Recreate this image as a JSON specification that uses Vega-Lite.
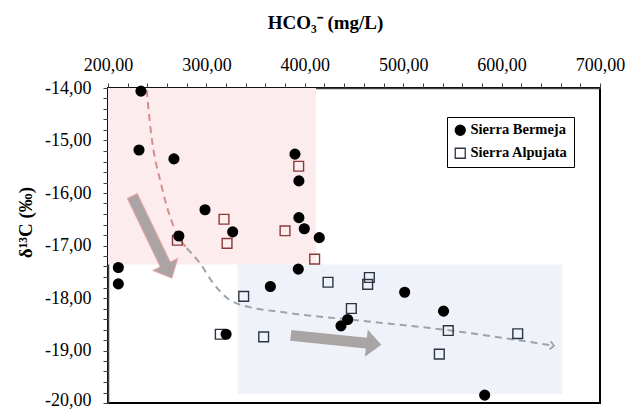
{
  "$schema": "https://vega.github.io/schema/vega-lite/v6.json",
  "width": 492,
  "height": 315,
  "autosize": {"type": "none"},
  "padding": {"left": 108, "top": 88, "right": 29, "bottom": 7},
  "background": "white",
  "config": {
    "view": {"stroke": "black", "strokeWidth": 2},
    "font": "Liberation Serif",
    "axis": {"grid": false, "domainColor": "#404040", "domainWidth": 1.5, "tickColor": "#404040", "tickSize": 5, "labelFont": "Liberation Serif", "labelFontSize": 18, "labelColor": "black", "titleFont": "Liberation Serif", "titleFontSize": 19, "titleFontWeight": "bold", "titleColor": "black"}
  },
  "resolve": {"axis": {"x": "independent", "y": "independent"}},
  "datasets": {
    "zones": [
      {"zone": "upper", "x": 200, "x2": 411.4, "y": -14, "y2": -17.36},
      {"zone": "lower", "x": 331.8, "x2": 661.7, "y": -17.36, "y2": -19.83}
    ],
    "points": [
      {"series": "Sierra Alpujata", "zone": "upper", "x": 270.5, "y": -16.9},
      {"series": "Sierra Alpujata", "zone": "upper", "x": 317.9, "y": -16.5},
      {"series": "Sierra Alpujata", "zone": "upper", "x": 321, "y": -16.96},
      {"series": "Sierra Alpujata", "zone": "upper", "x": 393.8, "y": -15.49},
      {"series": "Sierra Alpujata", "zone": "upper", "x": 379.9, "y": -16.72},
      {"series": "Sierra Alpujata", "zone": "upper", "x": 410, "y": -17.26},
      {"series": "Sierra Alpujata", "zone": "lower", "x": 423.6, "y": -17.7},
      {"series": "Sierra Alpujata", "zone": "lower", "x": 337.9, "y": -17.97},
      {"series": "Sierra Alpujata", "zone": "lower", "x": 314.1, "y": -18.69},
      {"series": "Sierra Alpujata", "zone": "lower", "x": 358.2, "y": -18.74},
      {"series": "Sierra Alpujata", "zone": "lower", "x": 447.3, "y": -18.2},
      {"series": "Sierra Alpujata", "zone": "lower", "x": 465.6, "y": -17.61},
      {"series": "Sierra Alpujata", "zone": "lower", "x": 463.9, "y": -17.74},
      {"series": "Sierra Alpujata", "zone": "lower", "x": 545.8, "y": -18.62},
      {"series": "Sierra Alpujata", "zone": "lower", "x": 616.4, "y": -18.68},
      {"series": "Sierra Alpujata", "zone": "lower", "x": 536.7, "y": -19.07},
      {"series": "Sierra Bermeja", "zone": "upper", "x": 210.5, "y": -17.42},
      {"series": "Sierra Bermeja", "zone": "upper", "x": 210.5, "y": -17.73},
      {"series": "Sierra Bermeja", "zone": "upper", "x": 233.5, "y": -14.06},
      {"series": "Sierra Bermeja", "zone": "upper", "x": 231.5, "y": -15.18},
      {"series": "Sierra Bermeja", "zone": "upper", "x": 267, "y": -15.35},
      {"series": "Sierra Bermeja", "zone": "upper", "x": 298.6, "y": -16.32},
      {"series": "Sierra Bermeja", "zone": "upper", "x": 272, "y": -16.82},
      {"series": "Sierra Bermeja", "zone": "upper", "x": 326.7, "y": -16.74},
      {"series": "Sierra Bermeja", "zone": "lower", "x": 320, "y": -18.69},
      {"series": "Sierra Bermeja", "zone": "lower", "x": 365, "y": -17.78},
      {"series": "Sierra Bermeja", "zone": "lower", "x": 393.4, "y": -17.45},
      {"series": "Sierra Bermeja", "zone": "upper", "x": 390, "y": -15.26},
      {"series": "Sierra Bermeja", "zone": "upper", "x": 394, "y": -15.77},
      {"series": "Sierra Bermeja", "zone": "upper", "x": 394, "y": -16.47},
      {"series": "Sierra Bermeja", "zone": "upper", "x": 399.5, "y": -16.68},
      {"series": "Sierra Bermeja", "zone": "upper", "x": 414.7, "y": -16.85},
      {"series": "Sierra Bermeja", "zone": "lower", "x": 436.8, "y": -18.53},
      {"series": "Sierra Bermeja", "zone": "lower", "x": 443.6, "y": -18.41},
      {"series": "Sierra Bermeja", "zone": "lower", "x": 501.5, "y": -17.89},
      {"series": "Sierra Bermeja", "zone": "lower", "x": 541, "y": -18.25},
      {"series": "Sierra Bermeja", "zone": "lower", "x": 582.8, "y": -19.85}
    ],
    "trend": [
      {"seg": "a", "x": 239.3, "y": -14.04},
      {"seg": "a", "x": 243.4, "y": -14.8},
      {"seg": "a", "x": 254.6, "y": -15.88},
      {"seg": "a", "x": 268.1, "y": -16.7},
      {"seg": "a", "x": 280, "y": -17.05},
      {"seg": "b", "x": 280, "y": -17.05},
      {"seg": "b", "x": 293.5, "y": -17.34},
      {"seg": "b", "x": 307, "y": -17.72},
      {"seg": "b", "x": 324, "y": -18.04},
      {"seg": "b", "x": 331.8, "y": -18.11},
      {"seg": "b", "x": 381.6, "y": -18.28},
      {"seg": "b", "x": 456.1, "y": -18.43},
      {"seg": "b", "x": 544.2, "y": -18.61},
      {"seg": "b", "x": 653.3, "y": -18.91}
    ],
    "arrows": [
      {"arrow": "down", "x": 244.8, "y": -16.84},
      {"arrow": "right", "x": 431.7, "y": -18.8},
      {"arrow": "tip", "x": 653.3, "y": -18.91}
    ]
  },
  "layer": [
    {
      "data": {"name": "zones"},
      "transform": [{"filter": "datum.zone === 'upper'"}],
      "mark": {"type": "rect", "fill": "#fdeced"},
      "encoding": {
        "x": {"field": "x", "type": "quantitative", "scale": {"domain": [200, 700], "nice": false, "zero": false},
          "axis": {"orient": "top", "title": "HCO₃⁻ (mg/L)", "values": [200, 300, 400, 500, 600, 700],
            "labelExpr": "replace(format(datum.value, '.2f'), '.', ',')",
            "labelOverlap": false, "labelBound": false, "labelFlush": false,
            "labelPadding": 9, "titleX": 217, "titleY": -66, "titleAlign": "center", "titleBaseline": "middle"}},
        "x2": {"field": "x2"},
        "y": {"field": "y", "type": "quantitative", "scale": {"domain": [-20, -14], "nice": false, "zero": false},
          "axis": {"orient": "left", "title": "δ¹³C (‰)", "values": [-20, -19, -18, -17, -16, -15, -14],
            "labelExpr": "replace(replace(format(datum.value, '.2f'), '.', ','), '−', '-')",
            "labelOffset": {"condition": {"test": "datum.value <= -20", "value": -3}, "value": 0},
            "labelOverlap": false, "labelBound": false, "labelFlush": false,
            "labelPadding": 12, "titleX": -83, "titleY": 134, "titleAngle": -90, "titleAlign": "center", "titleBaseline": "middle"}},
        "y2": {"field": "y2"}
      }
    },
    {
      "data": {"name": "zones"},
      "transform": [{"filter": "datum.zone === 'lower'"}],
      "mark": {"type": "rect", "fill": "#eff3f9"},
      "encoding": {
        "x": {"field": "x", "type": "quantitative",
          "axis": {"orient": "top", "title": null, "labels": false, "domain": false, "values": [220,240,260,280,320,340,360,380,420,440,460,480,520,540,560,580,620,640,660,680]}},
        "x2": {"field": "x2"},
        "y": {"field": "y", "type": "quantitative",
          "axis": {"orient": "left", "title": null, "labels": false, "domain": false, "values": [-19.8,-19.6,-19.4,-19.2,-18.8,-18.6,-18.4,-18.2,-17.8,-17.6,-17.4,-17.2,-16.8,-16.6,-16.4,-16.2,-15.8,-15.6,-15.4,-15.2,-14.8,-14.6,-14.4,-14.2]}},
        "y2": {"field": "y2"}
      }
    },
    {
      "data": {"name": "arrows"},
      "transform": [{"filter": "datum.arrow === 'down'"}],
      "mark": {"type": "point", "shape": "M-1,-0.12L0.67,-0.12L0.67,-0.3L1,0L0.67,0.3L0.67,0.12L-1,0.12Z", "size": 8281, "angle": 64.3, "filled": true, "fill": "#aaa4a4", "stroke": "#e8a0a0", "strokeWidth": 1, "opacity": 1},
      "encoding": {"x": {"field": "x", "type": "quantitative", "axis": null}, "y": {"field": "y", "type": "quantitative", "axis": null}}
    },
    {
      "data": {"name": "arrows"},
      "transform": [{"filter": "datum.arrow === 'right'"}],
      "mark": {"type": "point", "shape": "M-1,-0.12L0.67,-0.12L0.67,-0.3L1,0L0.67,0.3L0.67,0.12L-1,0.12Z", "size": 8281, "angle": 5.9, "filled": true, "fill": "#a9a5a5", "strokeWidth": 0, "opacity": 1},
      "encoding": {"x": {"field": "x", "type": "quantitative", "axis": null}, "y": {"field": "y", "type": "quantitative", "axis": null}}
    },
    {
      "data": {"name": "trend"},
      "transform": [{"filter": "datum.seg === 'a'"}],
      "mark": {"type": "line", "interpolate": "monotone", "stroke": "#d48e8e", "strokeWidth": 2, "strokeDash": [7, 5]},
      "encoding": {"x": {"field": "x", "type": "quantitative", "axis": null}, "y": {"field": "y", "type": "quantitative", "axis": null}}
    },
    {
      "data": {"name": "trend"},
      "transform": [{"filter": "datum.seg === 'b'"}],
      "mark": {"type": "line", "interpolate": "monotone", "stroke": "#9da3ab", "strokeWidth": 2, "strokeDash": [7, 5]},
      "encoding": {"x": {"field": "x", "type": "quantitative", "axis": null}, "y": {"field": "y", "type": "quantitative", "axis": null}}
    },
    {
      "data": {"name": "arrows"},
      "transform": [{"filter": "datum.arrow === 'tip'"}],
      "mark": {"type": "point", "shape": "M-1,-1L0,0L-1,1", "size": 64, "angle": 8, "filled": false, "stroke": "#9da3ab", "strokeWidth": 1.8, "opacity": 1},
      "encoding": {"x": {"field": "x", "type": "quantitative", "axis": null}, "y": {"field": "y", "type": "quantitative", "axis": null}}
    },
    {
      "data": {"name": "points"},
      "mark": {"type": "point", "size": 95, "strokeWidth": 1.4, "opacity": 1},
      "encoding": {
        "x": {"field": "x", "type": "quantitative", "axis": null},
        "y": {"field": "y", "type": "quantitative", "axis": null},
        "shape": {"field": "series", "type": "nominal", "scale": {"domain": ["Sierra Bermeja", "Sierra Alpujata"], "range": ["circle", "square"]},
          "legend": {"orient": "none", "legendX": 339, "legendY": 29, "title": null, "strokeColor": "black", "fillColor": "white", "padding": 6, "labelFont": "Liberation Serif", "labelFontSize": 14.5, "labelFontWeight": "bold", "labelColor": "black", "symbolSize": 100, "symbolStrokeWidth": 1.3, "rowPadding": 7, "labelOffset": 3}},
        "fill": {"field": "series", "type": "nominal", "scale": {"domain": ["Sierra Bermeja", "Sierra Alpujata"], "range": ["black", "transparent"]}},
        "stroke": {"condition": {"test": "datum.series === 'Sierra Alpujata' && datum.zone === 'upper'", "value": "#8a3838"}, "field": "series", "type": "nominal", "scale": {"domain": ["Sierra Bermeja", "Sierra Alpujata"], "range": ["black", "#2b3440"]}},
        "order": {"field": "series", "type": "nominal", "sort": "ascending"}
      }
    }
  ]
}
